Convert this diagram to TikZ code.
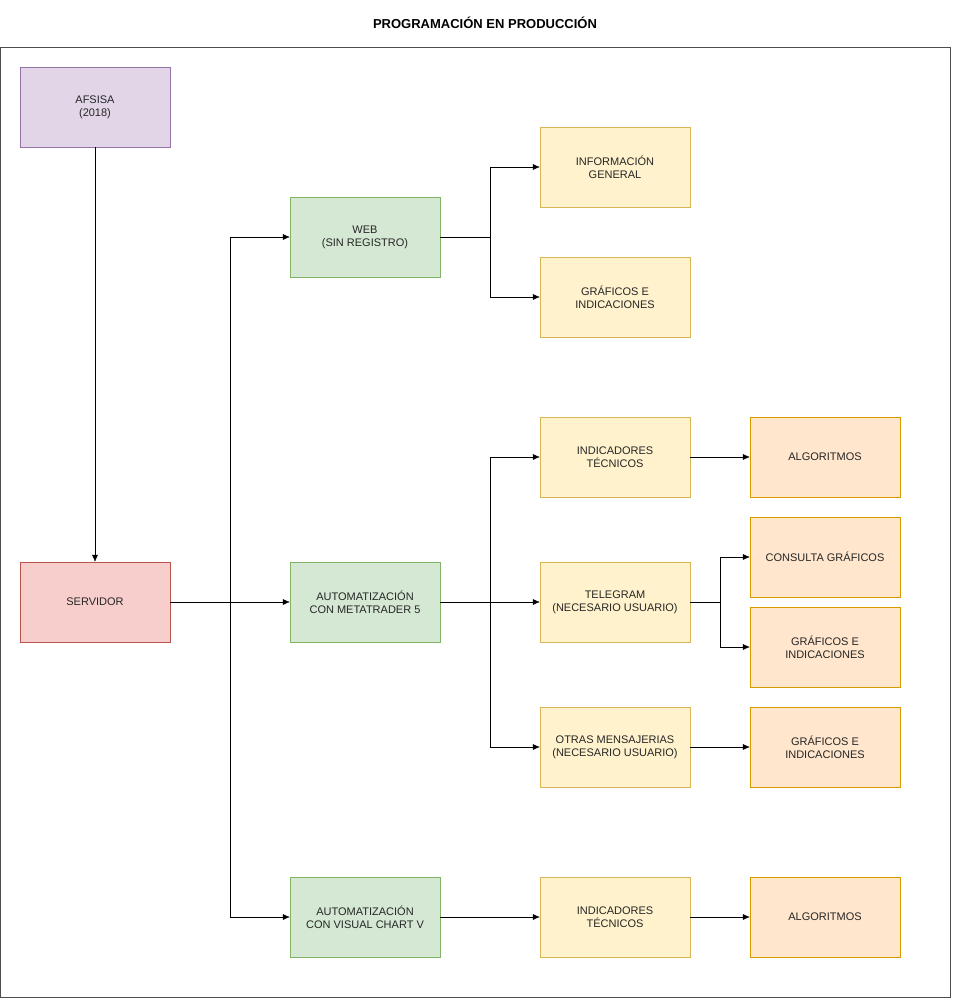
\documentclass[tikz,border=0pt]{standalone}
\usepackage{fontspec}
\setmainfont{Liberation Sans}
\usetikzlibrary{arrows.meta}
\definecolor{pf}{HTML}{E1D5E7}\definecolor{pd}{HTML}{9673A6}
\definecolor{rf}{HTML}{F8CECC}\definecolor{rd}{HTML}{B85450}
\definecolor{gf}{HTML}{D5E8D4}\definecolor{gd}{HTML}{82B366}
\definecolor{yf}{HTML}{FFF2CC}\definecolor{yd}{HTML}{D6B656}
\definecolor{of}{HTML}{FFE6CC}\definecolor{od}{HTML}{D79B00}
\begin{document}
\begin{tikzpicture}[x=1pt,y=-1pt,
 box/.style={draw,minimum width=150pt,minimum height=80pt,inner sep=0pt,align=center,font=\fontsize{11}{13}\selectfont,text=black!85},
 pbox/.style={box,fill=pf,draw=pd}, rbox/.style={box,fill=rf,draw=rd},
 gbox/.style={box,fill=gf,draw=gd}, ybox/.style={box,fill=yf,draw=yd}, obox/.style={box,fill=of,draw=od},
 ar/.style={-{Latex[length=7pt,width=6pt]},black}]
\useasboundingbox (0,0) rectangle (955,1001);
\node[draw=black!70,line width=1pt,minimum width=950pt,minimum height=950pt,inner sep=0pt,anchor=north west] (frame) at (0,47) {};
\node[font=\bfseries\fontsize{13}{15}\selectfont] (title) at (485,23) {PROGRAMACIÓN EN PRODUCCIÓN};
\node[pbox] (afs) at (95,107) {AFSISA\\(2018)};
\node[rbox] (srv) at (95,602) {SERVIDOR};
\node[gbox] (web) at (365,237) {WEB\\(SIN REGISTRO)};
\node[gbox] (mt5) at (365,602) {AUTOMATIZACIÓN\\CON METATRADER 5};
\node[gbox] (vc) at (365,917) {AUTOMATIZACIÓN\\CON VISUAL CHART V};
\node[ybox] (info) at (615,167) {INFORMACIÓN\\GENERAL};
\node[ybox] (graf) at (615,297) {GRÁFICOS E\\INDICACIONES};
\node[ybox] (it1) at (615,457) {INDICADORES\\TÉCNICOS};
\node[ybox] (tel) at (615,602) {TELEGRAM\\(NECESARIO USUARIO)};
\node[ybox] (otr) at (615,747) {OTRAS MENSAJERIAS\\(NECESARIO USUARIO)};
\node[ybox] (it2) at (615,917) {INDICADORES\\TÉCNICOS};
\node[obox] (alg1) at (825,457) {ALGORITMOS};
\node[obox] (cons) at (825,557) {CONSULTA GRÁFICOS};
\node[obox] (gr2) at (825,647) {GRÁFICOS E\\INDICACIONES};
\node[obox] (gr3) at (825,747) {GRÁFICOS E\\INDICACIONES};
\node[obox] (alg2) at (825,917) {ALGORITMOS};
\draw[ar] (afs) -- (srv);
\draw[ar] (srv) -- (mt5);
\draw[ar] (srv.east) -- (230,602) |- (web.west);
\draw[ar] (srv.east) -- (230,602) |- (vc.west);
\draw[ar] (web.east) -- (490,237) |- (info.west);
\draw[ar] (web.east) -- (490,237) |- (graf.west);
\draw[ar] (mt5.east) -- (490,602) |- (it1.west);
\draw[ar] (mt5) -- (tel);
\draw[ar] (mt5.east) -- (490,602) |- (otr.west);
\draw[ar] (tel.east) -- (720,602) |- (cons.west);
\draw[ar] (tel.east) -- (720,602) |- (gr2.west);
\draw[ar] (it1) -- (alg1);
\draw[ar] (otr) -- (gr3);
\draw[ar] (vc) -- (it2);
\draw[ar] (it2) -- (alg2);
\end{tikzpicture}
\end{document}
